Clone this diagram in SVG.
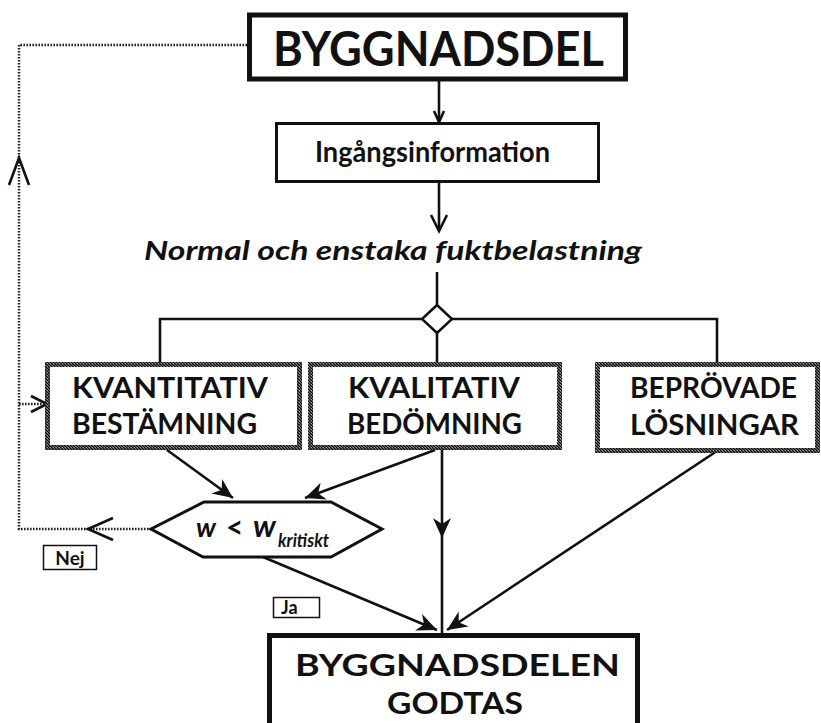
<svg xmlns="http://www.w3.org/2000/svg" width="821" height="723" viewBox="0 0 821 723">
<style>
  .t { font-family: Lato, "Open Sans", "Liberation Sans", sans-serif; font-weight: bold; fill: #111; }
  .it { font-style: italic; }
  .box { fill: #fff; stroke: #111; }
  .tex { fill: #fff; stroke: url(#texture); stroke-width: 5; }
  .ln { fill: none; stroke: #111; stroke-width: 2.6; }
  .dot { fill: none; stroke: #222; stroke-width: 2.5; stroke-dasharray: 1.6 1.4; }
  .chev { fill: none; stroke: #111; stroke-width: 2.6; stroke-linejoin: miter; }
</style>
<defs>
  <pattern id="texture" width="3" height="3" patternUnits="userSpaceOnUse">
    <rect width="3" height="3" fill="#555"/>
    <rect x="0" y="0" width="1" height="1" fill="#000"/>
    <rect x="1" y="1" width="1" height="1" fill="#000"/>
    <rect x="2" y="2" width="1" height="1" fill="#000"/>
    <rect x="2" y="0" width="1" height="1" fill="#999"/>
  </pattern>
  <marker id="arr" viewBox="-22 -11 24 22" refX="0" refY="0" markerWidth="24" markerHeight="22" markerUnits="userSpaceOnUse" orient="auto">
    <path d="M0,0 L-20,-9 L-14,0 L-20,9 Z" fill="#111"/>
  </marker>
</defs>
<rect width="821" height="723" fill="#fff"/>

<g id="connectors">
  <path class="dot" d="M247,45 H19 V529 H151"/>
  <path class="dot" d="M19,404 H46"/>
  <polyline class="chev" points="9,185 19,158 29,185"/>
  <polyline class="chev" points="31,396 47,404 31,412"/>
  <polyline class="chev" points="113,518 88,529 113,540"/>
  <line class="ln" x1="439" y1="80" x2="439" y2="122"/>
  <polyline class="chev" points="434,111 439,122 444,111"/>
  <line class="ln" x1="439" y1="182" x2="439" y2="231"/>
  <polyline class="chev" points="431,215 439,231 447,215"/>
  <line class="ln" x1="437" y1="272" x2="437" y2="305"/>
  <path class="ln" d="M160,364 V319 H422"/>
  <path class="ln" d="M452,319 H717 V364"/>
  <path class="ln" d="M437,333 V364"/>
  <line class="ln" x1="167" y1="450" x2="233" y2="498" marker-end="url(#arr)"/>
  <line class="ln" x1="435" y1="450" x2="305" y2="498" marker-end="url(#arr)"/>
  <line class="ln" x1="442" y1="450" x2="442" y2="538" marker-end="url(#arr)"/>
  <line class="ln" x1="442" y1="538" x2="442" y2="635"/>
  <line class="ln" x1="263" y1="557" x2="437" y2="630" marker-end="url(#arr)"/>
  <line class="ln" x1="717" y1="451" x2="447" y2="630" marker-end="url(#arr)"/>
</g>

<g id="byggnadsdel">
  <rect class="box" x="249.5" y="15" width="376" height="64" stroke-width="5"/>
  <text class="t" x="273" y="66" font-size="48" textLength="331" lengthAdjust="spacingAndGlyphs">BYGGNADSDEL</text>
</g>

<g id="ingangsinformation">
  <rect class="box" x="276.5" y="123.5" width="322" height="58" stroke-width="3"/>
  <text class="t" x="315" y="162" font-size="29" textLength="235" lengthAdjust="spacingAndGlyphs">Ingångsinformation</text>
</g>

<g id="belastning">
  <text class="t it" x="144" y="260" font-size="26" textLength="498" lengthAdjust="spacingAndGlyphs">Normal och enstaka fuktbelastning</text>
</g>

<g id="diamond">
  <polygon points="437,305 452,319 437,333 422,319" fill="#fff" stroke="#111" stroke-width="2.5"/>
</g>

<g id="kvantitativ">
  <rect class="tex" x="47.5" y="364.5" width="252" height="83"/>
  <text class="t" x="72" y="398" font-size="28" textLength="196" lengthAdjust="spacingAndGlyphs">KVANTITATIV</text>
  <text class="t" x="72" y="434" font-size="28" textLength="185" lengthAdjust="spacingAndGlyphs">BESTÄMNING</text>
</g>

<g id="kvalitativ">
  <rect class="tex" x="310.5" y="364.5" width="249" height="83"/>
  <text class="t" x="348" y="398" font-size="28" textLength="172" lengthAdjust="spacingAndGlyphs">KVALITATIV</text>
  <text class="t" x="347" y="434" font-size="28" textLength="175" lengthAdjust="spacingAndGlyphs">BEDÖMNING</text>
</g>

<g id="beprovade">
  <rect class="tex" x="597.5" y="364.5" width="220" height="86"/>
  <text class="t" x="630" y="398" font-size="28" textLength="167" lengthAdjust="spacingAndGlyphs">BEPRÖVADE</text>
  <text class="t" x="630" y="435" font-size="28" textLength="169" lengthAdjust="spacingAndGlyphs">LÖSNINGAR</text>
</g>

<g id="villkor">
  <polygon points="151,529 204,502 331,502 382,529 331,557 203,557" fill="#fff" stroke="#111" stroke-width="3"/>
  <text class="t it" x="196" y="537" font-size="27">w</text>
  <text class="t" x="226" y="538" font-size="30">&lt;</text>
  <text class="t it" x="253" y="537" font-size="31">w</text>
  <text class="t it" x="278" y="547" font-size="18" textLength="51" lengthAdjust="spacingAndGlyphs">kritiskt</text>
</g>

<g id="nej">
  <rect class="box" x="43.5" y="545.5" width="53" height="24" stroke-width="1.5"/>
  <text class="t" x="70" y="565" font-size="19" text-anchor="middle">Nej</text>
</g>

<g id="ja">
  <rect class="box" x="273.5" y="597.5" width="46" height="20" stroke-width="1.5"/>
  <text class="t" x="281" y="614" font-size="18">Ja</text>
</g>

<g id="godtas">
  <rect class="box" x="269.5" y="635.5" width="368" height="100" stroke-width="5"/>
  <text class="t" x="295" y="676" font-size="31" textLength="325" lengthAdjust="spacingAndGlyphs">BYGGNADSDELEN</text>
  <text class="t" x="387" y="714" font-size="31" textLength="136" lengthAdjust="spacingAndGlyphs">GODTAS</text>
</g>
</svg>
